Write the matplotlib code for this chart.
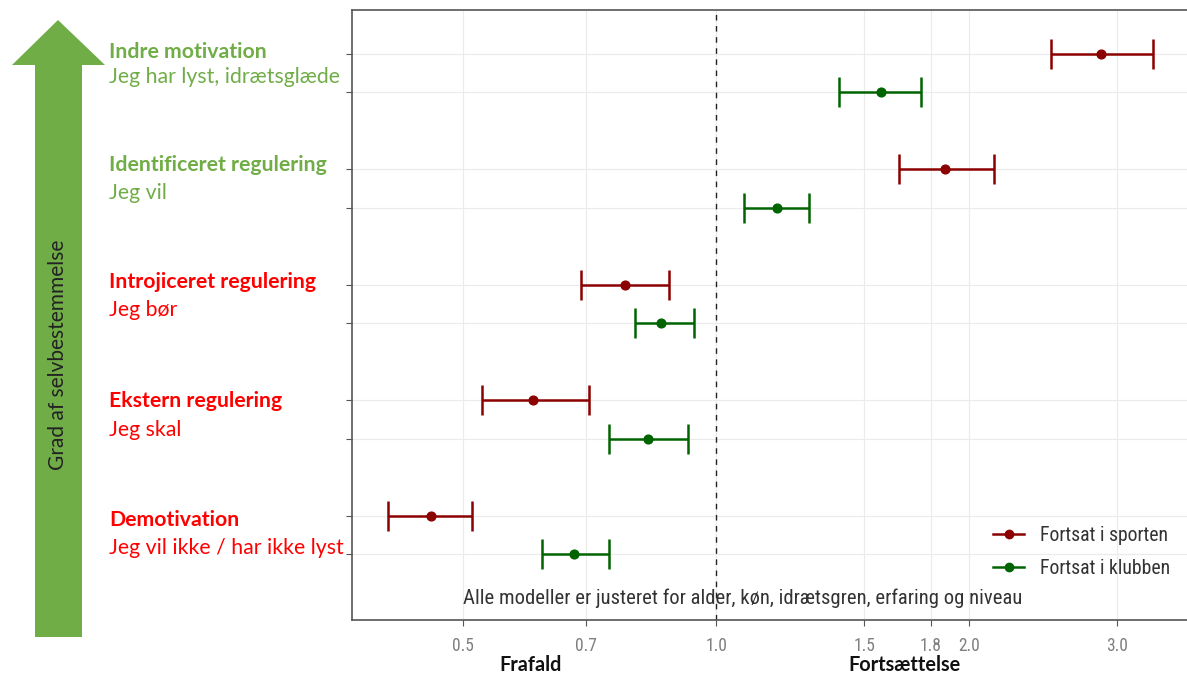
import numpy as np
import matplotlib
matplotlib.use('Agg')
import matplotlib.pyplot as plt
from matplotlib import font_manager
from matplotlib.patches import Polygon
from matplotlib.lines import Line2D

# rows from top to bottom: (bold heading, subtitle, colour)
headings = ['Indre motivation', 'Identificeret regulering', 'Introjiceret regulering',
            'Ekstern regulering', 'Demotivation']
subtitles = ['Jeg har lyst, idrætsglæde', 'Jeg vil', 'Jeg bør', 'Jeg skal',
             'Jeg vil ikke / har ikke lyst']
label_colors = ['#70AD47', '#70AD47', '#FF0000', '#FF0000', '#FF0000']

# odds ratios with 95% CI, same order as headings
sport_or = [2.87, 1.87, 0.78, 0.606, 0.458]
sport_lo = [2.50, 1.65, 0.69, 0.527, 0.407]
sport_hi = [3.31, 2.14, 0.88, 0.706, 0.513]

klub_or = [1.57, 1.18, 0.86, 0.83, 0.678]
klub_lo = [1.40, 1.08, 0.80, 0.746, 0.621]
klub_hi = [1.75, 1.29, 0.94, 0.926, 0.746]

xticks = [0.5, 0.7, 1.0, 1.5, 1.8, 2.0, 3.0]
xticklabels = ['0.5', '0.7', '1.0', '1.5', '1.8', '2.0', '3.0']

red = '#8B0000'
green = '#006400'

# pick a condensed font if one exists, else Liberation Sans
installed = {f.name for f in font_manager.fontManager.ttflist}
narrow_name = 'Liberation Sans'
narrow_size = 1.0
for cand in ['Liberation Sans Narrow', 'Roboto Condensed', 'Open Sans Condensed', 'DejaVu Sans Condensed']:
    if cand in installed:
        narrow_name = cand
        narrow_size = 1.12
        break
narrow = [narrow_name, 'DejaVu Sans']
calib = ['Lato', 'DejaVu Sans']

fig = plt.figure(figsize=(11.87, 6.76), dpi=100)
ax = fig.add_axes([352/1187, 1-620/676, 1-352/1187, 610/676])

n = len(headings)
y_sport = [3*(n-1-i)+2 for i in range(n)]
y_klub = [3*(n-1-i)+1 for i in range(n)]

for ys, v, lo, hi, c in [(y_sport, sport_or, sport_lo, sport_hi, red),
                         (y_klub, klub_or, klub_lo, klub_hi, green)]:
    v = np.array(v); lo = np.array(lo); hi = np.array(hi)
    ax.errorbar(v, ys, xerr=[v-lo, hi-v], fmt='o', color=c, ecolor=c,
                elinewidth=1.8, capsize=11, capthick=1.8, markersize=6.3, zorder=3)

ax.axvline(1.0, color='#222222', linestyle=(0, (4, 4)), linewidth=1)
ax.set_xscale('log')
ax.set_xlim(0.369, 3.63)
ax.set_ylim(-0.71, 15.14)
ax.set_xticks(xticks)
ax.set_xticklabels(xticklabels)
ax.xaxis.set_minor_locator(matplotlib.ticker.NullLocator())
ax.set_yticks(sorted(y_sport + y_klub))
ax.set_yticklabels([])
ax.tick_params(axis='x', length=4, width=0.8, color='#555555', pad=8,
               labelsize=11.3*narrow_size, labelcolor='#7f7f7f')
ax.tick_params(axis='y', length=4, width=0.8, color='#555555')
for lab in ax.get_xticklabels():
    lab.set_family(narrow)
ax.grid(True, color='#ebebeb', linewidth=0.8)
ax.set_axisbelow(True)
for s in ['left', 'top', 'bottom']:
    ax.spines[s].set_color('#555555')
    ax.spines[s].set_linewidth(1.2)
ax.spines['right'].set_visible(False)

ax.text(0.5, -0.14, 'Alle modeller er justeret for alder, køn, idrætsgren, erfaring og niveau',
        ha='left', va='center', fontsize=13.3*narrow_size, color='#333333', family=narrow)

handles = [Line2D([], [], color=red, marker='o', markersize=6, linewidth=1.8),
           Line2D([], [], color=green, marker='o', markersize=6, linewidth=1.8)]
fig.legend(handles, ['Fortsat i sporten', 'Fortsat i klubben'], loc='center left',
           bbox_to_anchor=(975/1187, 1-552/676), frameon=False,
           prop={'family': narrow, 'size': 12.7*narrow_size},
           labelcolor='#333333', handlelength=1.6, handletextpad=0.8, labelspacing=0.75)

# left labels
head_y = [52, 165, 282, 401, 520]
sub_y = [77, 193, 310, 430, 548]
for h, s, c, hy, sy in zip(headings, subtitles, label_colors, head_y, sub_y):
    fig.text(109/1187, 1-hy/676, h, color=c, fontsize=15.3, fontweight='bold',
             family=calib, va='center', ha='left')
    fig.text(109/1187, 1-sy/676, s, color=c, fontsize=15.3, family=calib,
             va='center', ha='left')

# big arrow
pts = [(35, 637), (82, 637), (82, 65), (105, 65), (58, 20), (12, 65), (35, 65)]
arrow = Polygon([(x/1187, 1-y/676) for x, y in pts], closed=True,
                transform=fig.transFigure, facecolor='#70AD47', edgecolor='none')
fig.patches.append(arrow)
fig.text(58/1187, 1-355/676, 'Grad af selvbestemmelse', rotation=90, ha='center',
         va='center', fontsize=15, color='#222222', family=calib)

fig.text(531/1187, 1-665/676, 'Frafald', fontsize=14.3, fontweight='bold', family=calib,
         ha='center', va='center', color='#111111')
fig.text(904/1187, 1-665/676, 'Fortsættelse', fontsize=14.3, fontweight='bold', family=calib,
         ha='center', va='center', color='#111111')

fig.savefig('out.png', dpi=100)
